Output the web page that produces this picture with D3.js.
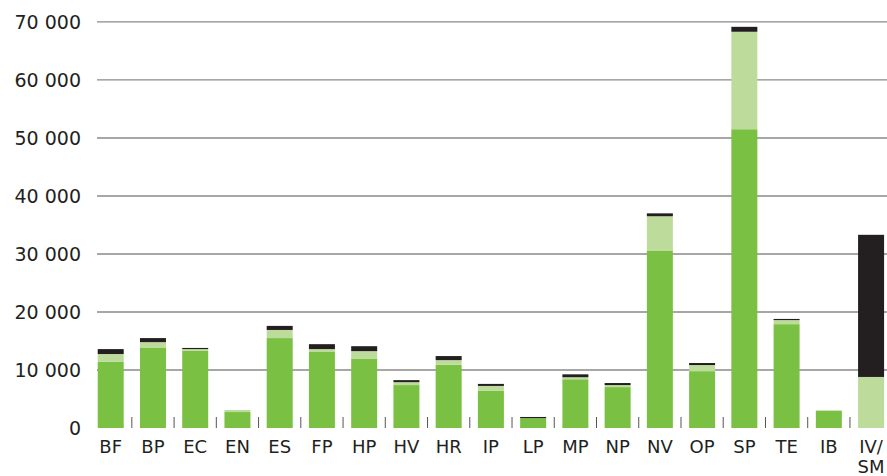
<!DOCTYPE html>
<html>
<head>
<meta charset="utf-8">
<script src="https://cdn.jsdelivr.net/npm/d3@7/dist/d3.min.js"></script>
<style>
  html, body { margin: 0; padding: 0; background: #fff; }
  svg { display: block; }
</style>
</head>
<body>
<svg id="chart" width="887" height="476"></svg>
<script>
const categories = ["BF","BP","EC","EN","ES","FP","HP","HV","HR","IP","LP","MP","NP","NV","OP","SP","TE","IB","IV/SM"];
const seriesGreen = [11400,13800,13300,2750,15500,13100,11900,7400,10900,6400,1700,8400,7050,30600,9800,51500,17900,3000,0];
const seriesLight = [1350,1000,300,350,1400,500,1350,500,800,850,0,350,350,5900,1050,16800,700,0,8800];
const seriesBlack = [850,700,200,0,700,850,850,350,700,350,200,500,350,500,350,850,200,0,24500];
const yTicks = [0,10000,20000,30000,40000,50000,60000,70000];
const yTickLabels = ["0","10 000","20 000","30 000","40 000","50 000","60 000","70 000"];

const colors = { green: "#7ac143", light: "#bddc9c", black: "#231f20" };
const keys = ["green","light","black"];

const data = categories.map((c, i) => ({
  cat: c, green: seriesGreen[i], light: seriesLight[i], black: seriesBlack[i]
}));

const svg = d3.select("#chart");
const x = d3.scaleBand().domain(categories).range([89.6, 892.2]).paddingInner(0.3845).paddingOuter(0.19225);
const y = d3.scaleLinear().domain([0, 70000]).range([428, 21.9]);

// gridlines
svg.append("g").selectAll("line").data(yTicks.filter(t => t > 0)).join("line")
  .attr("x1", 97).attr("x2", 887)
  .attr("y1", d => y(d)).attr("y2", d => y(d))
  .attr("stroke", "#8a8a8a").attr("stroke-width", 1.4);

// y labels
svg.append("g").selectAll("text").data(yTicks).join("text")
  .attr("x", 81).attr("y", d => y(d)).attr("dy", "0.36em")
  .attr("text-anchor", "end")
  .attr("font-family", "DejaVu Sans, sans-serif").attr("font-size", 19)
  .attr("fill", "#231f20")
  .text((d, i) => yTickLabels[i]);

// stacked bars
const stack = d3.stack().keys(keys)(data);
svg.append("g").selectAll("g").data(stack).join("g")
  .attr("fill", d => colors[d.key])
  .selectAll("rect").data(d => d).join("rect")
  .attr("x", d => x(d.data.cat))
  .attr("width", x.bandwidth())
  .attr("y", d => y(d[1]))
  .attr("height", d => Math.max(0, y(d[0]) - y(d[1])));

// separators between categories
const step = x.step();
svg.append("g").selectAll("line").data(categories.slice(1)).join("line")
  .attr("x1", d => x(d) - x.paddingInner() * step / 2)
  .attr("x2", d => x(d) - x.paddingInner() * step / 2)
  .attr("y1", 417).attr("y2", 428)
  .attr("stroke", "#555").attr("stroke-width", 1);

// category labels
const lab = svg.append("g").selectAll("text").data(categories).join("text")
  .attr("x", d => x(d) + x.bandwidth() / 2)
  .attr("y", 453)
  .attr("text-anchor", "middle")
  .attr("font-family", "DejaVu Sans, sans-serif").attr("font-size", 18)
  .attr("fill", "#231f20");
lab.each(function(d) {
  const parts = d === "IV/SM" ? ["IV/", "SM"] : [d];
  const t = d3.select(this);
  parts.forEach((p, i) => {
    t.append("tspan").attr("x", x(d) + x.bandwidth() / 2).attr("dy", i === 0 ? 0 : 20).text(p);
  });
});
</script>
</body>
</html>
